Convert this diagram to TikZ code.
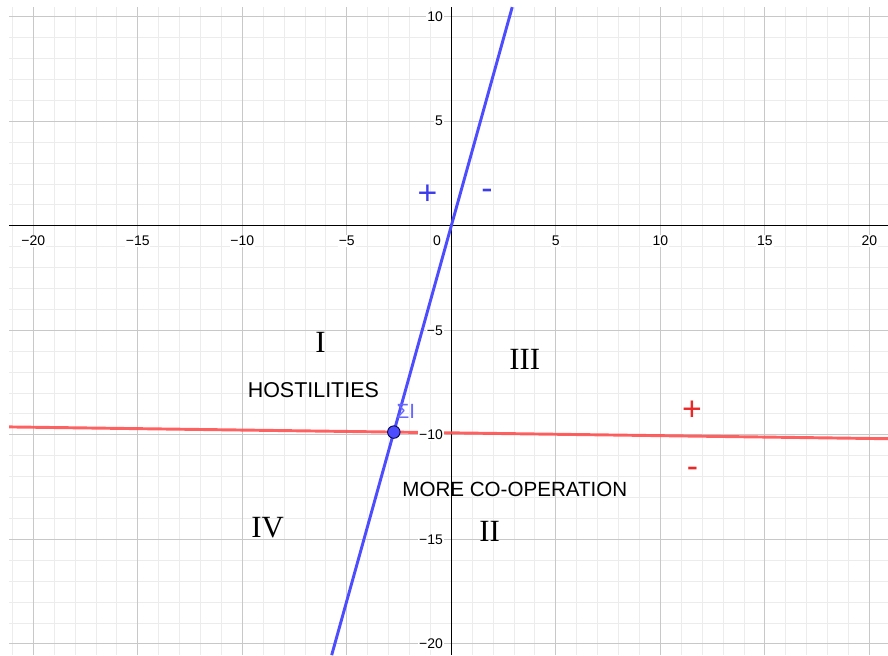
\documentclass[tikz,border=0pt]{standalone}
\usepackage{fontspec}
\setmainfont{Liberation Sans}
\newfontfamily\romanfont{Liberation Serif}
\usetikzlibrary{positioning}
\definecolor{geoblue}{RGB}{77,77,255}
\definecolor{geored}{RGB}{255,80,80}
\definecolor{signblue}{RGB}{60,60,235}
\definecolor{signred}{RGB}{235,40,40}
\definecolor{minorgray}{RGB}{236,236,236}
\definecolor{majorgray}{RGB}{200,200,200}

\begin{document}
\begin{tikzpicture}[
  x=0.5cm, y=0.5cm,
  tick/.style={font=\fontsize{9.5}{11}\selectfont, fill=white, inner sep=0.6pt},
  region/.style={font=\romanfont\fontsize{21}{24}\selectfont, inner sep=0pt},
  caption/.style={font=\fontsize{14}{16}\selectfont, inner sep=0pt},
  sign/.style={font=\fontsize{23}{25}\selectfont, inner sep=0pt, anchor=base},
  minorline/.style={draw=minorgray, line width=0.6pt},
  majorline/.style={draw=majorgray, line width=0.8pt},
  axisline/.style={draw=black, line width=0.9pt},
  curve/.style={line width=2pt}
]
\useasboundingbox (-21.59,-20.54) rectangle (20.89,10.80);
% grid
\coordinate (gsw) at (-21.15,-20.54);
\coordinate (gne) at (20.89,10.46);
\draw[minorline, step=1] (gsw) grid (gne);
\draw[majorline, step=5] (gsw) grid (gne);
% axes
\coordinate (xleft) at (-21.15,0);
\coordinate (xright) at (20.89,0);
\coordinate (ytop) at (0,10.46);
\coordinate (ybot) at (0,-20.54);
\draw[axisline] (xleft) -- (xright);
\draw[axisline] (ytop) -- (ybot);

% lines through the point
\coordinate (btop) at (2.914,10.46);
\coordinate (bbot) at (-5.723,-20.54);
\coordinate (rleft) at (-21.15,-9.623);
\coordinate (rright) at (20.89,-10.187);
\draw[curve, geored, opacity=0.9] (rleft) -- (rright);
\draw[curve, geoblue] (bbot) -- (btop);

% tick labels
\foreach \v in {5,10,15,20} {
  \node[tick] (xp\v) at (\v,-0.73) {\v};
  \node[tick] (xm\v) at (-\v,-0.73) {−\v};
}
\foreach \v in {5,10} \node[tick, anchor=east] (yp\v) at (-0.35,\v) {\v};
\foreach \v in {5,10,15,20} \node[tick, anchor=east] (ym\v) at (-0.35,-\v) {−\v};
\node[tick] (zero) at (-0.68,-0.73) {0};

% point
\node[circle, fill=geoblue, draw=black!70!blue, line width=0.6pt,
  minimum size=8.5pt, inner sep=0pt] (sigma) at (-2.75,-9.87) {};
\node[caption, text=geoblue!85!white] (sigmalab) at (-2.17,-8.86) {ΣI};

% regions
\node[region] (rI) at (-6.26,-5.59) {I};
\node[region] (rIII) at (3.51,-6.38) {III};
\node[region] (rIV) at (-8.79,-14.44) {IV};
\node[region] (rII) at (1.83,-14.61) {II};
\node[caption, font=\fontsize{14.6}{16}\selectfont] (host) at (-6.6,-7.88) {HOSTILITIES};
\node[caption] (coop) at (3.04,-12.6) {MORE CO-OPERATION};

% signs
\node[sign, text=signblue] (bplus) at (-1.14,1.01) {+};
\node[sign, text=signblue] (bminus) at (1.71,1.26) {-};
\node[sign, text=signred] (rplus) at (11.51,-9.30) {+};
\node[sign, text=signred] (rminus) at (11.54,-12.04) {-};
\end{tikzpicture}
\end{document}
